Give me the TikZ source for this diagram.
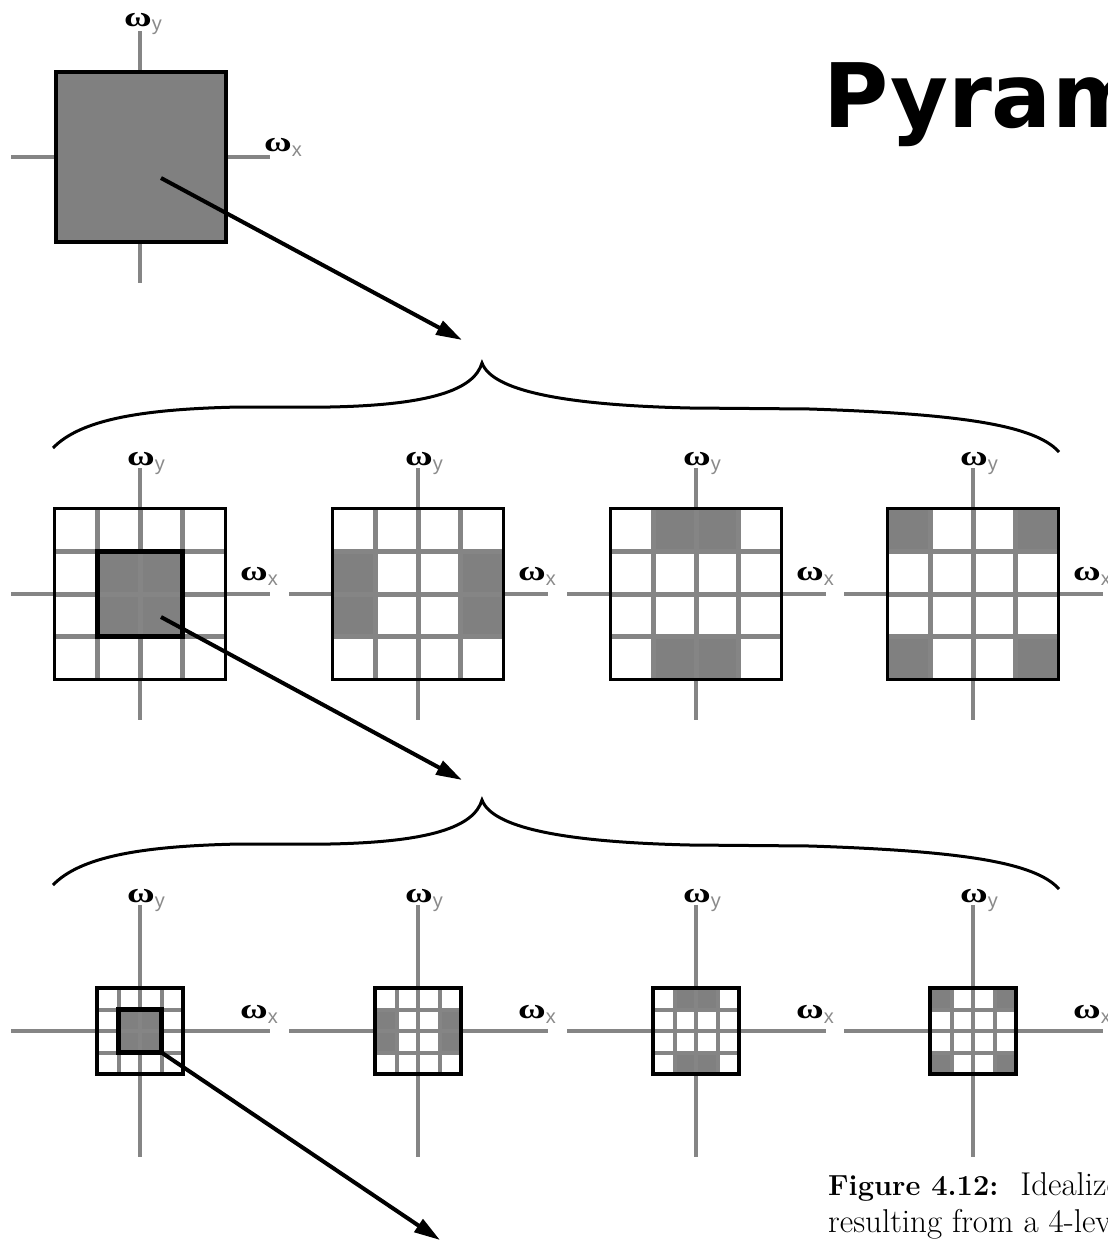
\documentclass[tikz,border=0pt]{standalone}
\usepackage{fontspec}
\usepackage{graphicx}
\newfontfamily\omfont{Liberation Serif}
\newfontfamily\subfont{Liberation Sans}
\newfontfamily\titlefont{DejaVu Sans}
\usetikzlibrary{arrows.meta}
\definecolor{fillgray}{HTML}{808080}
\definecolor{axgray}{HTML}{858585}
\definecolor{subgray}{HTML}{8A8A8A}
\newcommand{\wlab}[1]{{\omfont\bfseries\fontsize{28}{28}\selectfont\scalebox{1.35}[1]{ω}}\raisebox{-5pt}{\subfont\fontsize{20}{20}\selectfont\textcolor{subgray}{#1}}}
% grid: cx cy size gridlinewidth cells
\newcommand{\pgrid}[5]{%
  \pgfmathsetmacro\gC{#3/4}%
  \pgfmathsetmacro\gX{#1-#3/2}%
  \pgfmathsetmacro\gY{#2-#3/2}%
  \fill[white] (\gX,\gY) rectangle ++(#3,#3);
  \foreach \ci/\cj in {#5} {\fill[fillgray] (\gX+\ci*\gC,\gY+\cj*\gC) rectangle ++(\gC,\gC);}
  \foreach \k in {1,2,3} {%
    \draw[axgray, line width=#4] (\gX+\k*\gC,\gY) -- ++(0,#3);
    \draw[axgray, line width=#4] (\gX,\gY+\k*\gC) -- ++(#3,0);}
  \draw[axis] (#1-129,#2) -- (#1+130,#2);
  \draw[axis] (#1,#2-126) -- (#1,#2+126);
  \draw[border] (#1-#3/2,#2-#3/2) rectangle (#1+#3/2,#2+#3/2);
}
\begin{document}
\begin{tikzpicture}[x=1pt,y=-1pt,
  axis/.style={axgray, line width=4.5pt},
  border/.style={draw=black, line width=3.2pt},
  inner/.style={draw=black, line width=5pt},
  arr/.style={line width=4pt, -{Triangle[length=26pt,width=15pt]}},
  brace/.style={line width=3pt},
  lab/.style={inner sep=0pt, anchor=base west}]
\useasboundingbox (0,0) rectangle (1108,1242);
\clip (0,0) rectangle (1108,1242);

% title
\node[inner sep=0pt, anchor=base west] (title) at (823,127)
  {\titlefont\bfseries\fontsize{89}{89}\selectfont Pyramids};

% ---------- row 1
\draw[axis] (11,157) -- (270,157);
\draw[axis] (140,31) -- (140,283);
\node[border, fill=fillgray, line width=4pt, minimum size=170pt, inner sep=0pt] (top) at (140.5,157) {};
\node[lab] (wy0) at (124,26) {\wlab{y}};
\node[lab] (wx0) at (264,151) {\wlab{x}};

% ---------- row 2
\pgrid{140}{594}{171}{5pt}{1/1,2/1,1/2,2/2}
\pgrid{418}{594}{171}{5pt}{0/1,0/2,3/1,3/2}
\pgrid{696}{594}{171}{5pt}{1/0,2/0,1/3,2/3}
\pgrid{973}{594}{171}{5pt}{0/0,3/0,0/3,3/3}
\foreach \cx in {140,418,696,973} {
  \node[lab] at (\cx-13,465) {\wlab{y}};
  \node[lab] at (\cx+100,580) {\wlab{x}};
}
\node[inner, minimum size=85.5pt, inner sep=0pt] (in2) at (140,594) {};

% ---------- row 3
\pgrid{140}{1031}{86}{4pt}{1/1,2/1,1/2,2/2}
\pgrid{418}{1031}{86}{4pt}{0/1,0/2,3/1,3/2}
\pgrid{696}{1031}{86}{4pt}{1/0,2/0,1/3,2/3}
\pgrid{973}{1031}{86}{4pt}{0/0,3/0,0/3,3/3}
\foreach \cx in {140,418,696,973} {
  \node[lab] at (\cx-13,902) {\wlab{y}};
  \node[lab] at (\cx+100,1018) {\wlab{x}};
}
\node[inner, minimum size=43pt, inner sep=0pt] (in3) at (140,1031) {};

% ---------- arrows
\coordinate (a1s) at (161,178);  \coordinate (a1e) at (462,340);
\coordinate (a2s) at (161,617);  \coordinate (a2e) at (462,780);
\coordinate (a3s) at (161.5,1052.5); \coordinate (a3e) at (440,1240);
\draw[arr] (a1s) -- (a1e);
\draw[arr] (a2s) -- (a2e);
\draw[arr] (a3s) -- (a3e);

% ---------- braces
\draw[brace] (53,448) .. controls (80,420) and (140,409) .. (240,407)
  -- (330,407) .. controls (430,405) and (474,390) .. (482,363)
  .. controls (492,390) and (560,405) .. (690,408)
  -- (810,409) .. controls (960,414) and (1035,425) .. (1059,452);
\draw[brace] (53,885) .. controls (80,857) and (140,846) .. (240,844)
  -- (330,844) .. controls (430,842) and (474,827) .. (482,800)
  .. controls (492,827) and (560,842) .. (690,845)
  -- (810,846) .. controls (960,851) and (1035,862) .. (1059,889);

% ---------- caption
\node[inner sep=0pt, anchor=base west] (cap1) at (828,1195)
  {\fontsize{29}{34}\selectfont\textbf{Figure 4.12:}\hspace{22pt}\fontsize{33}{38}\selectfont Idealized};
\node[inner sep=0pt, anchor=base west] (cap2) at (828,1232)
  {\fontsize{33}{38}\selectfont resulting from a 4-level};
\end{tikzpicture}
\end{document}
